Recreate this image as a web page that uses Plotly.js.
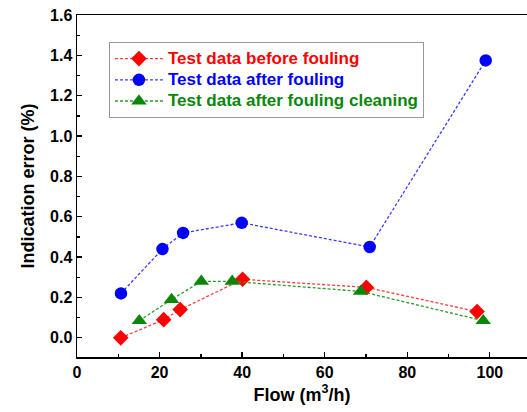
<!DOCTYPE html>
<html>
<head>
<meta charset="utf-8">
<script src="https://cdn.plot.ly/plotly-3.0.1.min.js"></script>
<style>html,body{margin:0;padding:0;background:#fff;}#chart{width:527px;height:412px;}</style>
</head>
<body>
<div id="chart"></div>
<script>
var beforeX = [10.6, 21.0, 25.0, 40.1, 70.1, 96.9];
var beforeY = [0.0, 0.09, 0.14, 0.29, 0.25, 0.13];
var afterX = [10.65, 20.7, 25.7, 39.9, 70.9, 99.0];
var afterY = [0.22, 0.44, 0.52, 0.57, 0.45, 1.375];
var cleanX = [15.1, 22.9, 30.1, 37.6, 68.7, 98.4];
var cleanY = [0.085, 0.19, 0.28, 0.28, 0.23, 0.085];
var names = ["Test data before fouling", "Test data after fouling", "Test data after fouling cleaning"];
var colors = ["#ff0000", "#0000ff", "#0a870a"];
var lineColors = ["#ff3b3b", "#3a3aff", "#2a9a2a"];

function tr(x, y, i, sym, size) {
  return {
    x: x, y: y, type: 'scatter', mode: 'lines+markers',
    name: '<span style="color:' + colors[i] + ';font-size:17px">' + names[i] + '</span>',
    line: {color: lineColors[i], width: 1.3, dash: '3px,2px'},
    marker: {color: colors[i], symbol: sym, size: size}
  };
}
var data = [
  tr(beforeX, beforeY, 0, 'diamond', 12),
  tr(afterX, afterY, 1, 'circle', 12.5),
  tr(cleanX, cleanY, 2, 'triangle-up', 13.5)
];
var fam = 'Liberation Sans, Arial, sans-serif';
var layout = {
  width: 527, height: 412,
  margin: {l: 77, r: 0, t: 15, b: 55},
  paper_bgcolor: '#fff', plot_bgcolor: '#fff',
  font: {family: fam, color: '#000', size: 16, weight: 'bold'},
  showlegend: true,
  legend: {
    x: 0.071, y: 0.921, xanchor: 'left', yanchor: 'top',
    bordercolor: '#999', borderwidth: 1, bgcolor: 'rgba(255,255,255,0)',
    font: {family: fam, size: 14, weight: 'bold'},
    tracegroupgap: 0, itemwidth: 48
  },
  xaxis: {
    range: [0, 109], tickvals: [0, 20, 40, 60, 80, 100],
    ticks: 'inside', ticklen: 5, tickwidth: 1.3, tickcolor: '#000',
    minor: {tickvals: [10, 30, 50, 70, 90], ticks: 'inside', ticklen: 3, tickcolor: '#000', tickwidth: 1.3},
    showline: true, linecolor: '#000', linewidth: 1.5, mirror: true,
    showgrid: false, zeroline: false,
    tickfont: {family: fam, size: 16, weight: 'bold'},
    title: {text: 'Flow (m<sup>3</sup>/h)', font: {family: fam, size: 18, weight: 'bold'}, standoff: 8}
  },
  yaxis: {
    range: [-0.095, 1.6], tickvals: [0, 0.2, 0.4, 0.6, 0.8, 1.0, 1.2, 1.4, 1.6],
    ticktext: ['0.0', '0.2', '0.4', '0.6', '0.8', '1.0', '1.2', '1.4', '1.6'],
    ticks: 'inside', ticklen: 5, tickwidth: 1.3, tickcolor: '#000',
    minor: {tickvals: [0.1, 0.3, 0.5, 0.7, 0.9, 1.1, 1.3, 1.5], ticks: 'inside', ticklen: 3, tickcolor: '#000', tickwidth: 1.3},
    showline: true, linecolor: '#000', linewidth: 1.5,
    showgrid: false, zeroline: false,
    tickfont: {family: fam, size: 16, weight: 'bold'},
    title: {text: 'Indication error (%)', font: {family: fam, size: 18, weight: 'bold'}, standoff: 10}
  }
};
Plotly.newPlot('chart', data, layout, {displayModeBar: false, staticPlot: true});
</script>
</body>
</html>
